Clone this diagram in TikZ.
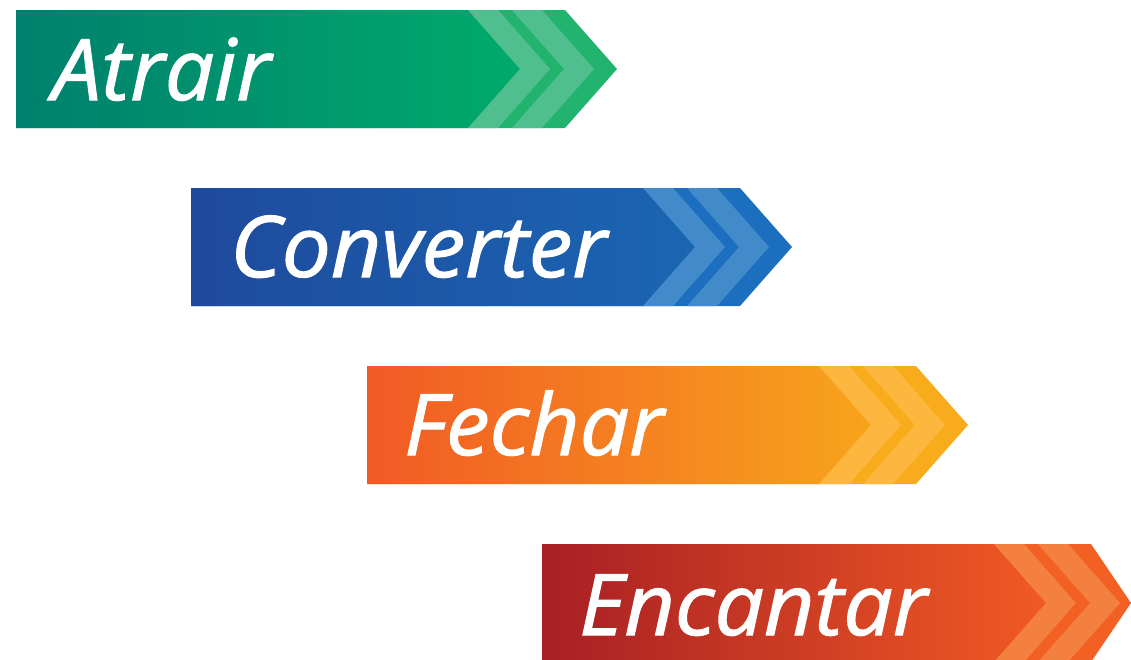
\documentclass[tikz,border=0pt]{standalone}
\usepackage{fontspec}
\setmainfont{Open Sans}
\newfontfamily\lblfont{Open Sans}[ItalicFeatures={FakeBold=1.3,FakeStretch=1.03}]
\usetikzlibrary{positioning}

\definecolor{atrL}{HTML}{00806E}
\definecolor{atrR}{HTML}{00AA6B}
\definecolor{atrBand}{HTML}{4FBF8F}
\definecolor{atrTip}{HTML}{22B46E}
\definecolor{conL}{HTML}{1F4A9C}
\definecolor{conR}{HTML}{1A66B3}
\definecolor{conBand}{HTML}{428ACA}
\definecolor{conTip}{HTML}{1B6FBE}
\definecolor{fecL}{HTML}{F15A25}
\definecolor{fecR}{HTML}{F8A41C}
\definecolor{fecBand}{HTML}{FDB73F}
\definecolor{fecTip}{HTML}{F9AC1B}
\definecolor{encL}{HTML}{A81F24}
\definecolor{encM}{HTML}{C2202A}
\definecolor{encR}{HTML}{F15A24}
\definecolor{encBand}{HTML}{F4803F}
\definecolor{encTip}{HTML}{F26024}

% arrow body: x0, top, tip length, colour prefix
\newcommand{\chevarrow}[4]{%
  \fill[#4Tip] (#1,#2) -- (#1+549,#2) -- (#1+549+#3,#2+59) -- (#1+549,#2+118) -- (#1,#2+118) -- cycle;
  \shade[#4Shade] (#1,#2) -- (#1+452,#2) -- (#1+504,#2+59) -- (#1+452,#2+118) -- (#1,#2+118) -- cycle;
  \fill[#4Band] (#1+452,#2) -- (#1+482,#2) -- (#1+534,#2+59) -- (#1+482,#2+118) -- (#1+452,#2+118) -- (#1+504,#2+59) -- cycle;
  \fill[#4Band] (#1+496,#2) -- (#1+526,#2) -- (#1+578,#2+59) -- (#1+526,#2+118) -- (#1+496,#2+118) -- (#1+548,#2+59) -- cycle;
}

\begin{document}
\begin{tikzpicture}[x=1pt,y=-1pt,every node/.style={inner sep=0pt},
  lbl/.style={anchor=base west,text=white,font=\fontsize{85}{85}\selectfont\lblfont\itshape},
  atrShade/.style={left color=atrL,right color=atrR},
  conShade/.style={left color=conL,right color=conR},
  fecShade/.style={left color=fecL,right color=fecR},
  encShade/.style={left color=encL,middle color=encM,right color=encR}]
\useasboundingbox (0,0) rectangle (1131,659);
\clip (0,0) rectangle (1131,659);

\chevarrow{16}{10}{52}{atr}
\chevarrow{191}{188}{52}{con}
\chevarrow{367}{366}{52}{fec}
\chevarrow{542}{544}{40}{enc}

\node[lbl](atrair) at (52,100){Atrair};
\node[lbl](converter) at (230,277){Converter};
\node[lbl](fechar) at (404,455){Fechar};
\node[lbl](encantar) at (579,635){Encantar};
\end{tikzpicture}
\end{document}
